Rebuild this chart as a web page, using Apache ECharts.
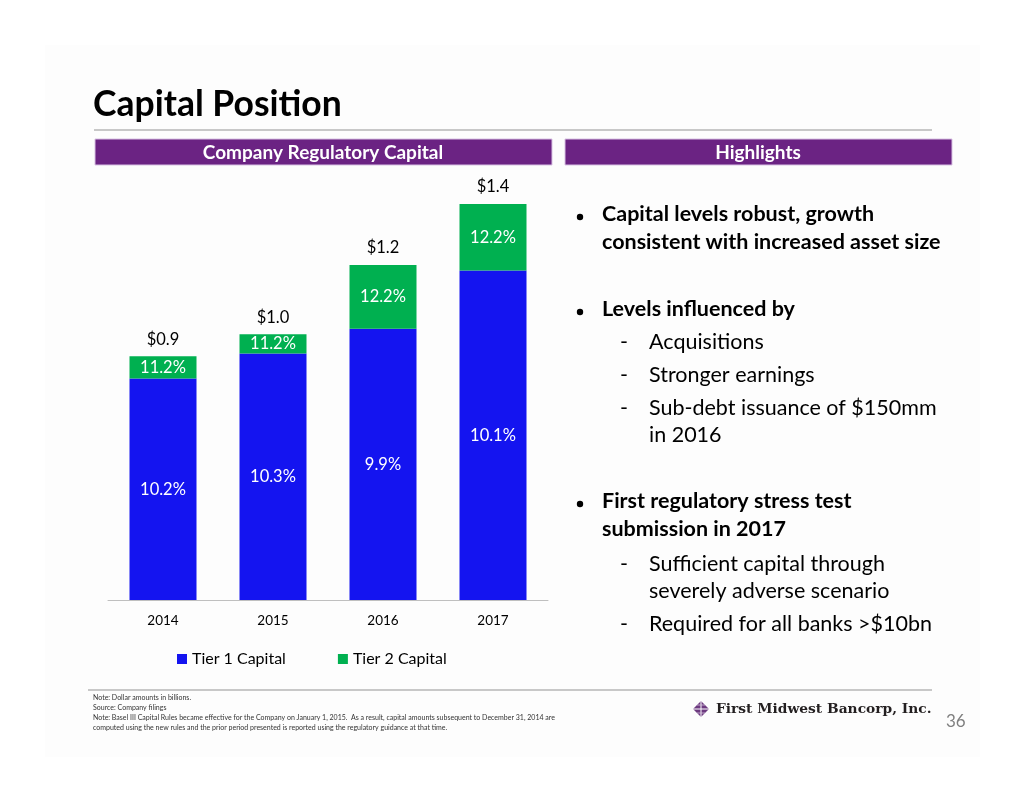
<!DOCTYPE html>
<html><head><meta charset="utf-8">
<script src="https://cdn.jsdelivr.net/npm/echarts@6/dist/echarts.min.js"></script>
<style>html,body{margin:0;padding:0;background:#fff;}#c{width:1024px;height:791px;}</style>
</head><body><div id="c"></div>
<script>
const years = ['2014', '2015', '2016', '2017'];
const tier1 = [0.80, 0.89, 0.98, 1.19];
const tier2 = [0.08, 0.07, 0.23, 0.24];
const tier1Ratio = ['10.2%', '10.3%', '9.9%', '10.1%'];
const tier2Ratio = ['11.2%', '11.2%', '12.2%', '12.2%'];
const seriesNames = ['Tier 1 Capital', 'Tier 2 Capital'];

const totals = tier1.map((v, i) => +(v + tier2[i]).toFixed(2));
const FONT = 'Lato';
const PURPLE = '#6B2383';

const chart = echarts.init(document.getElementById('c'), null, {renderer: 'canvas'});

const bullets = [
  {x: 602, y: 203, t: 'Capital levels robust, growth', w: 'bold', dot: true},
  {x: 602, y: 231, t: 'consistent with increased asset size', w: 'bold'},
  {x: 602, y: 298, t: 'Levels influenced by', w: 'bold', dot: true},
  {x: 620, y: 331, t: '-', w: 'normal'},
  {x: 649, y: 331, t: 'Acquisitions', w: 'normal'},
  {x: 620, y: 364, t: '-', w: 'normal'},
  {x: 649, y: 364, t: 'Stronger earnings', w: 'normal'},
  {x: 620, y: 397, t: '-', w: 'normal'},
  {x: 649, y: 397, t: 'Sub-debt issuance of $150mm', w: 'normal'},
  {x: 649, y: 424, t: 'in 2016', w: 'normal'},
  {x: 602, y: 490, t: 'First regulatory stress test', w: 'bold', dot: true},
  {x: 602, y: 518, t: 'submission in 2017', w: 'bold'},
  {x: 620, y: 553, t: '-', w: 'normal'},
  {x: 649, y: 553, t: 'Sufficient capital through', w: 'normal'},
  {x: 649, y: 580, t: 'severely adverse scenario', w: 'normal'},
  {x: 620, y: 613, t: '-', w: 'normal'},
  {x: 649, y: 613, t: 'Required for all banks >$10bn', w: 'normal'}
];

const notes = [
  'Note: Dollar amounts in billions.',
  'Source: Company filings',
  'Note: Basel III Capital Rules became effective for the Company on January 1, 2015.  As a result, capital amounts subsequent to December 31, 2014 are',
  'computed using the new rules and the prior period presented is reported using the regulatory guidance at that time.'
];

const graphics = [
  {type: 'rect', shape: {x: 45, y: 45, width: 935, height: 712}, style: {fill: '#fdfdfd'}, z: -10},
  {type: 'text', left: 93, top: 87, style: {text: 'Capital Position', fill: '#000', font: 'bold 35.5px ' + FONT}},
  {type: 'rect', shape: {x: 94, y: 129, width: 838, height: 2}, style: {fill: '#c8c8c8'}},
  {type: 'rect', shape: {x: 95, y: 139, width: 457, height: 26}, style: {fill: PURPLE, stroke: '#d9c2e3', lineWidth: 1}},
  {type: 'rect', shape: {x: 565, y: 139, width: 387, height: 26}, style: {fill: PURPLE, stroke: '#d9c2e3', lineWidth: 1}},
  {type: 'text', x: 323, y: 153, style: {text: 'Company Regulatory Capital', fill: '#fff', font: 'bold 19px ' + FONT, textAlign: 'center', textVerticalAlign: 'middle'}},
  {type: 'text', x: 758, y: 153, style: {text: 'Highlights', fill: '#fff', font: 'bold 19px ' + FONT, textAlign: 'center', textVerticalAlign: 'middle'}},
  {type: 'rect', shape: {x: 88, y: 689, width: 844, height: 2}, style: {fill: '#c8c8c8'}},
  {type: 'text', x: 946, y: 722, style: {text: '36', fill: '#7f7f7f', font: '17px ' + FONT, textVerticalAlign: 'middle'}},
  {type: 'text', x: 716, y: 709, style: {text: 'First Midwest Bancorp, Inc.', fill: '#231f20', font: 'bold 13.8px "DejaVu Serif"', textVerticalAlign: 'middle'}},
  {type: 'polygon', shape: {points: [[701, 701], [709, 709], [701, 717], [693, 709]]}, style: {fill: '#6d3a80'}},
  {type: 'line', shape: {x1: 693, y1: 709, x2: 709, y2: 709}, style: {stroke: '#fff', lineWidth: 1}},
  {type: 'line', shape: {x1: 701, y1: 701, x2: 701, y2: 717}, style: {stroke: '#fff', lineWidth: 1}},
  {type: 'line', shape: {x1: 697, y1: 705, x2: 705, y2: 705}, style: {stroke: '#d8c6de', lineWidth: 0.8}},
  {type: 'line', shape: {x1: 697, y1: 713, x2: 705, y2: 713}, style: {stroke: '#d8c6de', lineWidth: 0.8}}
];
bullets.forEach(b => {
  graphics.push({type: 'text', left: b.x, top: b.y,
    style: {text: b.t, fill: '#000', font: b.w + ' 21.5px ' + FONT}});
  if (b.dot) graphics.push({type: 'circle', shape: {cx: 580, cy: b.y + 14, r: 3.2}, style: {fill: '#000'}});
});
notes.forEach((n, i) => graphics.push({type: 'text', left: 93, top: [694, 704, 714, 724][i],
  style: {text: n, fill: '#333', font: '7px ' + FONT}}));

const option = {
  animation: false,
  backgroundColor: '#ffffff',
  textStyle: {fontFamily: FONT},
  grid: {left: 108, right: 476, top: 157, bottom: 191},
  xAxis: {
    type: 'category', data: years,
    axisLine: {lineStyle: {color: '#bfbfbf', width: 1}},
    axisTick: {show: false},
    axisLabel: {color: '#000', fontSize: 13.5, margin: 14, fontFamily: FONT}
  },
  yAxis: {type: 'value', min: 0, max: 1.6, show: false, splitLine: {show: false}},
  legend: {
    data: seriesNames, left: 172, top: 646, itemWidth: 10, itemHeight: 10, itemGap: 52,
    icon: 'rect', textStyle: {fontSize: 16, color: '#000', fontFamily: FONT}
  },
  series: [
    {
      name: seriesNames[0], type: 'bar', stack: 'cap', data: tier1, barWidth: 67,
      itemStyle: {color: '#1414F0'},
      label: {show: true, position: 'inside', color: '#fff', fontSize: 16.5, fontFamily: FONT,
        formatter: p => tier1Ratio[p.dataIndex]}
    },
    {
      name: seriesNames[1], type: 'bar', stack: 'cap', data: tier2, barWidth: 67,
      itemStyle: {color: '#00B050'},
      label: {show: true, position: 'inside', color: '#fff', fontSize: 16.5, fontFamily: FONT,
        formatter: p => tier2Ratio[p.dataIndex]}
    },
    {
      name: 'Total', type: 'line', data: totals, symbol: 'circle', symbolSize: 1,
      showSymbol: true, itemStyle: {color: 'rgba(0,0,0,0)'}, lineStyle: {opacity: 0},
      silent: true, z: 5,
      label: {show: true, position: 'top', distance: 8, color: '#000', fontSize: 16.5, fontFamily: FONT,
        formatter: p => '$' + p.value.toFixed(1)}
    }
  ],
  graphic: graphics
};
chart.setOption(option);
</script>
</body></html>
